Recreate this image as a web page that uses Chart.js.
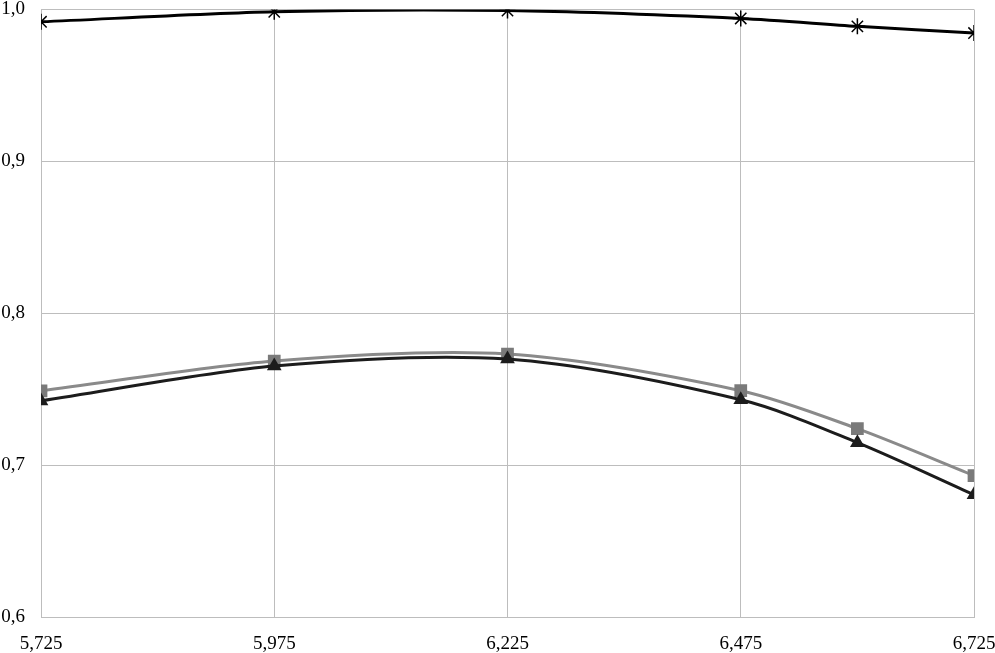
<!DOCTYPE html>
<html>
<head>
<meta charset="utf-8">
<script src="https://cdn.jsdelivr.net/npm/chart.js@4/dist/chart.umd.min.js"></script>
<style>
html,body{margin:0;padding:0;background:#fff;}
#wrap{width:995px;height:653px;}
</style>
</head>
<body>
<div id="wrap"><canvas id="c" width="995" height="653"></canvas></div>
<script>
const xValues = [5.725, 5.975, 6.225, 6.475, 6.6, 6.725];
const seriesStar = [0.9919, 0.9985, 0.9993, 0.9941, 0.9889, 0.9845];
const seriesSquare = [0.7489, 0.7685, 0.7731, 0.7490, 0.7240, 0.6931];
const seriesTriangle = [0.7423, 0.7652, 0.7698, 0.7430, 0.7148, 0.6805];
const xTickValues = [5.725, 5.975, 6.225, 6.475, 6.725];
const yTickValues = [0.6, 0.7, 0.8, 0.9, 1.0];

const pts = arr => xValues.map((x, i) => ({x: x, y: arr[i]}));
const font = {family: "'Liberation Serif', 'Times New Roman', serif", size: 19};

new Chart(document.getElementById('c'), {
  type: 'line',
  data: {
    datasets: [
      {data: pts(seriesStar), borderColor: '#000', backgroundColor: '#000', borderWidth: 3,
       pointStyle: 'star', pointRadius: 8, pointBorderWidth: 1.5, pointBorderColor: '#000', tension: 0.3},
      {data: pts(seriesTriangle), borderColor: '#1c1c1c', backgroundColor: '#1c1c1c', borderWidth: 3,
       pointStyle: 'triangle', pointRadius: 8.5, pointBorderWidth: 0, tension: 0.3},
      {data: pts(seriesSquare), borderColor: '#8a8a8a', backgroundColor: '#7a7a7a', borderWidth: 3,
       pointStyle: 'rect', pointRadius: 9, pointBorderWidth: 0, tension: 0.3}
    ]
  },
  options: {
    responsive: false,
    animation: false,
    layout: {padding: {top: 7, right: 21, left: 0, bottom: 0}},
    plugins: {legend: {display: false}, tooltip: {enabled: false}},
    scales: {
      x: {
        type: 'linear', min: 5.725, max: 6.725,
        afterBuildTicks: s => { s.ticks = xTickValues.map(v => ({value: v})); },
        afterFit: s => { s.height = 36; s.paddingLeft = 0; s.paddingRight = 0; },
        ticks: {font: font, color: '#000', padding: 16, maxRotation: 0, autoSkip: false,
                callback: v => v.toFixed(3).replace('.', ',')},
        grid: {color: '#bdbdbd', lineWidth: 1, drawTicks: false},
        border: {color: '#bdbdbd'}
      },
      y: {
        min: 0.6, max: 1.0,
        afterBuildTicks: s => { s.ticks = yTickValues.map(v => ({value: v})); },
        afterFit: s => { s.width = 41; s.paddingTop = 0; s.paddingBottom = 0; },
        ticks: {font: font, color: '#000', padding: 16,
                callback: v => v.toFixed(1).replace('.', ',')},
        grid: {color: '#bdbdbd', lineWidth: 1, drawTicks: false},
        border: {color: '#bdbdbd'}
      }
    }
  }
});
</script>
</body>
</html>
